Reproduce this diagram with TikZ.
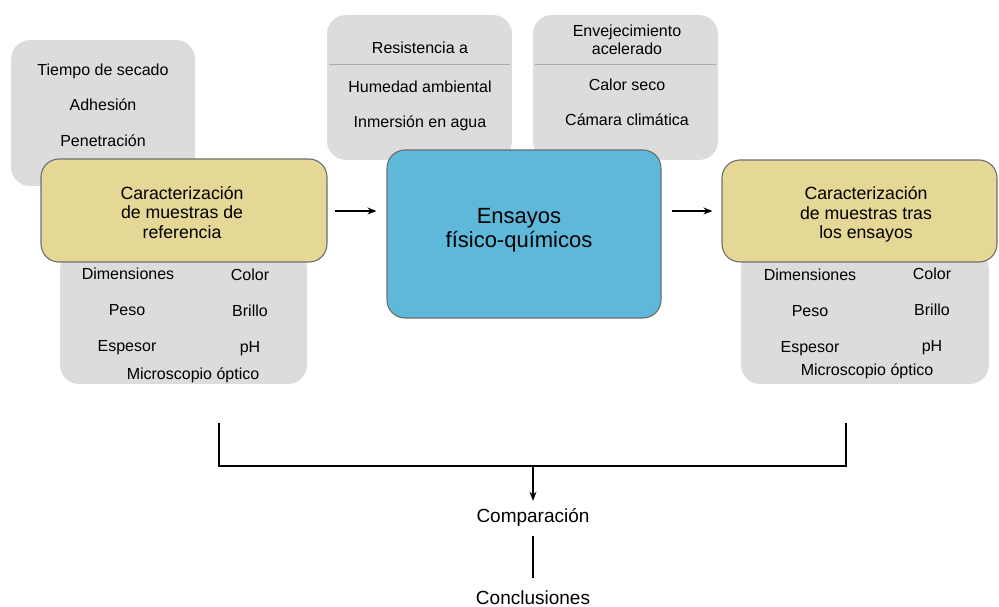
\documentclass[tikz,border=0pt]{standalone}
\usepackage{fontspec}
\setmainfont{Liberation Sans}
\usetikzlibrary{arrows.meta}

\definecolor{boxgray}{HTML}{DCDCDC}
\definecolor{sepgray}{HTML}{ABABAB}
\definecolor{paleyellow}{HTML}{E5D796}
\definecolor{skyblue}{HTML}{5DB8D9}
\definecolor{edgegray}{HTML}{6E6E6E}

\tikzset{
    listbox/.style = {fill = boxgray, rounded corners = 19pt, inner sep = 0pt},
    stagebox/.style = {draw = edgegray, line width = 1.1pt, rounded corners = 18pt,
        inner sep = 0pt},
    stagetext/.style = {inner sep = 0pt, align = center, font = \fontsize{17.7}{19.6}\selectfont},
    item/.style = {inner sep = 0pt, text height = 11.5pt, text depth = 0pt,
        font = \fontsize{16}{18}\selectfont},
    flow/.style = {-{Stealth[length = 9pt, width = 7pt]}, line width = 1.3pt},
}

\begin{document}
\begin{tikzpicture}[x = 1pt, y = -1pt]
    \useasboundingbox (0, 0) rectangle (999, 607);

    % cajas grises de fondo
    \draw
        (103, 113) node (prop) [listbox, minimum width = 184pt, minimum height = 146pt] {}
        (183.5, 317) node (medref) [listbox, minimum width = 247pt, minimum height = 134pt] {}
        (419.5, 87.5) node (resist) [listbox, minimum width = 185pt, minimum height = 145pt] {}
        (625.5, 87.5) node (envej) [listbox, minimum width = 185pt, minimum height = 145pt] {}
        (865, 317) node (medtras) [listbox, minimum width = 248pt, minimum height = 134pt] {}
    ;
    \draw [sepgray, line width = 0.6pt] (329, 64) -- (510, 64) (535, 64) -- (716, 64);

    % textos de las listas
    \draw
        (103, 70) node (secado) [item] {Tiempo de secado}
        (103, 105) node (adhesion) [item] {Adhesión}
        (103, 141) node (penetra) [item] {Penetración}

        (420, 48) node (resistA) [item] {Resistencia a}
        (420, 87) node (humedad) [item] {Humedad ambiental}
        (420, 122) node (inmersion) [item] {Inmersión en agua}

        (627, 40) node (acelerado) [inner sep = 0pt, align = center,
            font = \fontsize{16}{18}\selectfont] {Envejecimiento\\acelerado}
        (627, 85) node (calor) [item] {Calor seco}
        (627, 120) node (camara) [item] {Cámara climática}

        (128, 274) node (dimL) [item] {Dimensiones}
        (250, 275) node (colorL) [item] {Color}
        (127, 310) node (pesoL) [item] {Peso}
        (250, 311) node (brilloL) [item] {Brillo}
        (127, 346) node (espesorL) [item] {Espesor}
        (250, 347) node (phL) [item] {pH}
        (193, 374) node (microL) [item] {Microscopio óptico}

        (810, 275) node (dimR) [item] {Dimensiones}
        (932, 274) node (colorR) [item] {Color}
        (810, 311) node (pesoR) [item] {Peso}
        (932, 310) node (brilloR) [item] {Brillo}
        (810, 347) node (espesorR) [item] {Espesor}
        (932, 346) node (phR) [item] {pH}
        (867, 370) node (microR) [item] {Microscopio óptico}
    ;

    % etapas principales
    \draw
        (184, 210.5) node (ref) [stagebox, fill = paleyellow, minimum width = 286pt,
            minimum height = 103pt] {}
        (524, 234) node (ensayos) [stagebox, fill = skyblue, minimum width = 274pt,
            minimum height = 168pt] {}
        (859.5, 211) node (tras) [stagebox, fill = paleyellow, minimum width = 275pt,
            minimum height = 102pt] {}

        (182, 212.5) node (refTxt) [stagetext] {Caracterización\\de muestras de\\referencia}
        (519, 230) node (ensayosTxt) [stagetext, font = \fontsize{22}{24}\selectfont]
            {Ensayos\\físico-químicos}
        (866, 214.5) node (trasTxt) [stagetext] {Caracterización\\de muestras tras\\los ensayos}

        (533, 517) node (comp) [inner sep = 0pt, font = \fontsize{19}{20}\selectfont] {Comparación}
        (533, 597.5) node (concl) [inner sep = 0pt, font = \fontsize{19}{20}\selectfont] {Conclusiones}
    ;

    \coordinate (izq) at (219, 423);
    \coordinate (der) at (846, 423);
    \coordinate (union) at (533, 466);

    \draw [flow, shorten <= 7pt, shorten >= 10pt] (ref.east |- 0, 211) -- (ensayos.west |- 0, 211);
    \draw [flow, shorten <= 10pt, shorten >= 9pt] (ensayos.east |- 0, 211) -- (tras.west |- 0, 211);
    \draw [line width = 1.3pt] (izq) |- (union) -| (der);
    \draw [flow, shorten >= 7pt] (union) -- (comp.north);
    \draw [line width = 1.3pt, shorten <= 10pt, shorten >= 12.5pt] (comp.south) -- (concl.north);
\end{tikzpicture}
\end{document}
